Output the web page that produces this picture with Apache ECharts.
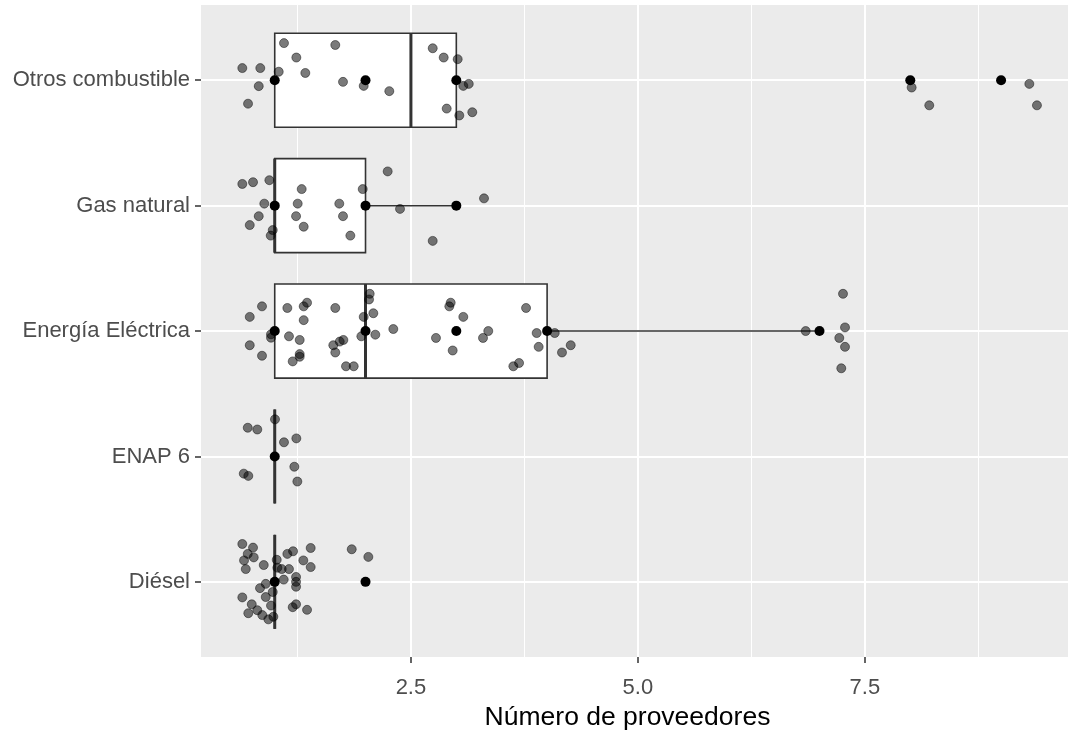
<!DOCTYPE html>
<html>
<head>
<meta charset="utf-8">
<script src="https://cdn.jsdelivr.net/npm/echarts@6/dist/echarts.min.js"></script>
<style>
html,body{margin:0;padding:0;background:#fff;}
#chart{width:1068px;height:736px;}
</style>
</head>
<body>
<div id="chart"></div>
<script>
// Categories, bottom to top (position 1..5 on the y scale)
const categories = ['Diésel', 'ENAP 6', 'Energía Eléctrica', 'Gas natural', 'Otros combustible'];

// Box statistics per category
const whiskerLow = [1, 1, 1, 1, 1];
const q1 = [1, 1, 1, 1, 1];
const median = [1, 1, 2, 1, 2.5];
const q3 = [1, 1, 4, 2, 3];
const whiskerHigh = [1, 1, 7, 3, 3];

// Observed (non-jittered) values per category (black points)
const dieselVals = [1, 2];
const enapVals = [1];
const electricaVals = [1, 2, 3, 4, 7];
const gasVals = [1, 2, 3];
const otrosVals = [1, 2, 3, 8, 9];

// Jittered observations [value, y-position]
const dieselJitter = [[0.643,1.302],[0.761,1.273],[0.703,1.223],[0.769,1.195],[0.662,1.171],[0.681,1.102],[0.879,1.134],[1.022,1.176],[1.139,1.223],[1.202,1.244],[1.396,1.270],[1.315,1.171],[1.396,1.118],[1.029,1.113],[1.077,1.102],[1.157,1.102],[1.235,1.039],[1.235,1.000],[1.235,0.961],[1.099,1.018],[0.901,0.984],[0.838,0.950],[0.978,0.919],[0.901,0.879],[0.643,0.876],[0.747,0.821],[0.959,0.811],[1.235,0.821],[1.198,0.798],[1.356,0.777],[0.709,0.750],[0.808,0.774],[0.863,0.735],[0.930,0.701],[0.985,0.722],[1.848,1.260],[2.031,1.199]];
const enapJitter = [[0.703,2.229],[0.808,2.215],[1.102,2.113],[1.238,2.144],[1.216,1.918],[1.249,1.800],[0.659,1.863],[0.709,1.845],[1.003,2.296]];
const electricaJitter = [[0.725,3.113],[0.860,3.197],[0.725,2.887],[0.860,2.803],[0.959,2.974],[0.959,2.947],[1.139,3.184],[1.319,3.197],[1.356,3.226],[1.319,3.087],[1.157,2.958],[1.275,2.929],[1.275,2.816],[1.275,2.795],[1.198,2.758],[1.667,3.184],[1.645,2.887],[1.716,2.916],[1.756,2.929],[1.667,2.829],[1.785,2.719],[1.870,2.719],[1.980,3.113],[1.954,2.958],[2.046,3.297],[2.039,3.252],[2.086,3.142],[2.108,2.971],[2.306,3.016],[2.938,3.226],[2.923,3.197],[3.077,3.113],[2.776,2.945],[2.960,2.845],[3.352,3.000],[3.294,2.945],[3.628,2.719],[3.691,2.745],[3.768,3.184],[3.885,2.984],[3.907,2.874],[4.084,2.984],[4.164,2.829],[4.260,2.887],[6.848,3.000],[7.259,3.297],[7.281,3.029],[7.218,2.945],[7.281,2.874],[7.240,2.703]];
const gasJitter = [[0.643,4.173],[0.761,4.187],[0.941,4.203],[0.885,4.016],[0.824,3.916],[0.725,3.845],[0.978,3.805],[0.956,3.761],[1.297,4.132],[1.253,4.016],[1.235,3.916],[1.319,3.832],[1.711,4.016],[1.752,3.916],[1.969,4.132],[1.833,3.761],[2.244,4.273],[2.380,3.974],[2.740,3.719],[3.305,4.058]];
const otrosJitter = [[0.643,5.097],[0.841,5.097],[0.824,4.953],[0.706,4.813],[1.044,5.068],[1.102,5.296],[1.238,5.181],[1.337,5.058],[1.667,5.281],[1.752,4.987],[1.980,4.955],[2.262,4.913],[2.740,5.255],[2.861,5.181],[3.015,5.168],[3.077,4.955],[3.137,4.971],[2.894,4.774],[3.033,4.719],[3.176,4.745],[8.015,4.942],[8.209,4.800],[9.311,4.971],[9.395,4.800]];

// Tick labels
const xMajorTicks = [2.5, 5.0, 7.5];
const xMinorTicks = [1.25, 3.75, 6.25, 8.75];
const yTicks = [1, 2, 3, 4, 5];
const xTitle = 'Número de proveedores';

// ---- build
const boxData = categories.map((c, i) => [i + 1, whiskerLow[i], q1[i], median[i], q3[i], whiskerHigh[i]]);
const valsByCat = [dieselVals, enapVals, electricaVals, gasVals, otrosVals];
const blackData = [];
valsByCat.forEach((vals, i) => vals.forEach(v => blackData.push([v, i + 1])));
const jitterData = [].concat(dieselJitter, enapJitter, electricaJitter, gasJitter, otrosJitter);

const FONT = "'Liberation Sans', Arial, sans-serif";
const XMIN = 0.188, XMAX = 9.737;

const chart = echarts.init(document.getElementById('chart'), null, {renderer: 'canvas'});
chart.setOption({
  animation: false,
  backgroundColor: '#ffffff',
  grid: {left: 201, right: 0, top: 5, bottom: 71, show: true, backgroundColor: '#EBEBEB', borderWidth: 0, containLabel: false},
  xAxis: [{
    type: 'value', min: XMIN, max: XMAX, position: 'bottom',
    axisLine: {show: false},
    axisTick: {show: true, customValues: xMajorTicks, length: 6, lineStyle: {color: '#333333', width: 1.5}},
    axisLabel: {show: true, customValues: xMajorTicks, margin: 20, color: '#4D4D4D', fontSize: 22, fontFamily: FONT,
      formatter: v => Number(v).toFixed(1)},
    splitLine: {show: true, lineStyle: {color: '#FFFFFF', width: 2}},
    name: xTitle, nameLocation: 'middle', nameGap: 45,
    nameTextStyle: {color: '#000000', fontSize: 26.5, fontFamily: FONT, padding: [0, 14, 0, 0]}
  }, {
    type: 'value', min: XMIN, max: XMAX, position: 'top',
    axisLine: {show: false},
    axisTick: {show: false, customValues: xMinorTicks},
    axisLabel: {show: false, customValues: xMinorTicks},
    splitLine: {show: true, lineStyle: {color: '#FFFFFF', width: 1}}
  }],
  yAxis: {
    type: 'value', min: 0.4, max: 5.6,
    axisLine: {show: false},
    axisTick: {show: true, customValues: yTicks, length: 6, lineStyle: {color: '#333333', width: 1.5}},
    axisLabel: {show: true, customValues: yTicks, margin: 11, color: '#4D4D4D', fontSize: 22, fontFamily: FONT,
      formatter: v => categories[Math.round(v) - 1]},
    splitLine: {show: true, lineStyle: {color: '#FFFFFF', width: 2}}
  },
  series: [{
    type: 'custom',
    xAxisIndex: 0,
    data: boxData,
    encode: {x: [1, 2, 3, 4, 5], y: 0},
    z: 2,
    renderItem: function (params, api) {
      const y = api.value(0), lo = api.value(1), a = api.value(2), m = api.value(3), b = api.value(4), hi = api.value(5);
      const hw = 0.375;
      const tl = api.coord([a, y + hw]);
      const br = api.coord([b, y - hw]);
      const mt = api.coord([m, y + hw]);
      const mb = api.coord([m, y - hw]);
      const pLo = api.coord([lo, y]);
      const pA = api.coord([a, y]);
      const pB = api.coord([b, y]);
      const pHi = api.coord([hi, y]);
      const stroke = '#333333';
      return {
        type: 'group',
        children: [
          {type: 'line', shape: {x1: pLo[0], y1: pLo[1], x2: pA[0], y2: pA[1]}, style: {stroke: stroke, lineWidth: 1.5}},
          {type: 'line', shape: {x1: pB[0], y1: pB[1], x2: pHi[0], y2: pHi[1]}, style: {stroke: stroke, lineWidth: 1.5}},
          {type: 'rect', shape: {x: tl[0], y: tl[1], width: br[0] - tl[0], height: br[1] - tl[1]}, style: {fill: '#FFFFFF', stroke: stroke, lineWidth: 1.6}},
          {type: 'line', shape: {x1: mt[0], y1: mt[1], x2: mb[0], y2: mb[1]}, style: {stroke: stroke, lineWidth: 3}}
        ]
      };
    }
  }, {
    type: 'scatter',
    xAxisIndex: 0,
    data: blackData,
    symbol: 'circle',
    symbolSize: 10,
    z: 3,
    itemStyle: {color: '#000000', opacity: 1},
    emphasis: {disabled: true}
  }, {
    type: 'scatter',
    xAxisIndex: 0,
    data: jitterData,
    symbol: 'circle',
    symbolSize: 9,
    z: 4,
    itemStyle: {color: 'rgba(0,0,0,0.52)', borderColor: 'rgba(0,0,0,0.45)', borderWidth: 1, opacity: 1},
    emphasis: {disabled: true}
  }]
});
</script>
</body>
</html>
